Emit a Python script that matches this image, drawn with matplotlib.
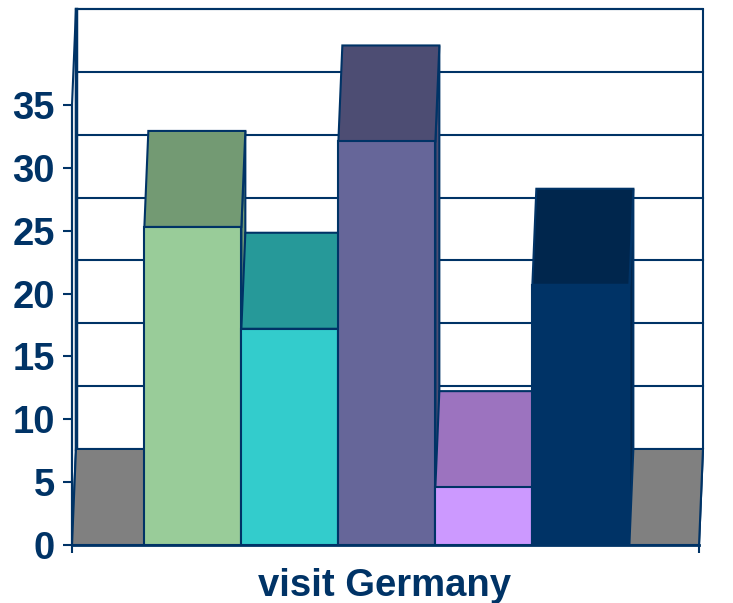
import matplotlib
matplotlib.use('Agg')
import matplotlib.pyplot as plt
from matplotlib.patches import Polygon

plt.rcParams['font.family'] = ['Liberation Sans', 'DejaVu Sans']

series_values = [25.3, 17.2, 32.1, 4.6, 20.7]
front_colors = ['#99CC99', '#33CCCC', '#666699', '#CC99FF', '#003366']
top_colors = ['#739A73', '#269999', '#4D4D73', '#9C73BF', '#00264D']
y_ticks = [0, 5, 10, 15, 20, 25, 30, 35]
xlabel = 'visit Germany'

navy = '#003366'
W, H = 733, 603
# fake 3d depth, in data units
dx = 0.041
dy = 7.64
left, right = -1.246, 5.259
y_top = 35 + dy

fig = plt.figure(figsize=(W / 100, H / 100), dpi=100)
ax = fig.add_axes([72 / W, (H - 545) / H, (703 - 72) / W, (545 - 9) / H])
ax.set_xlim(left, right)
ax.set_ylim(0, y_top)
for s in ax.spines.values():
    s.set_visible(False)

x_front_r = right - dx

# back wall gridlines
for v in y_ticks[1:]:
    ax.plot([left + dx, right], [v + dy, v + dy], color=navy, lw=1.5, zorder=1, clip_on=False)
ax.plot([left + dx, right, right, x_front_r], [y_top, y_top, dy, 0], color=navy, lw=1.5,
        zorder=1, clip_on=False)

# left wall
ax.add_patch(Polygon([(left, 0), (left, 35), (left + dx, y_top), (left + dx, dy)],
                     facecolor='white', edgecolor=navy, lw=1.5, clip_on=False, zorder=1))
ax.plot([left + dx, left + dx], [dy, y_top], color=navy, lw=2.5, zorder=2, clip_on=False)

# floor
ax.add_patch(Polygon([(left, 0), (left + dx, dy), (right, dy), (x_front_r, 0)],
                     facecolor='#808080', edgecolor=navy, lw=1.5, clip_on=False, zorder=2))

# bars
for i, v in enumerate(series_values):
    x0, x1 = i - 0.5, i + 0.5
    ax.add_patch(Polygon([(x1, 0), (x1 + dx, dy), (x1 + dx, v + dy), (x1, v)],
                         facecolor=top_colors[i], edgecolor=navy, lw=1.5, zorder=3 + i))
    ax.add_patch(Polygon([(x0, v), (x0 + dx, v + dy), (x1 + dx, v + dy), (x1, v)],
                         facecolor=top_colors[i], edgecolor=navy, lw=1.5, zorder=3 + i))
    ax.bar(i, v, width=1, color=front_colors[i], edgecolor=navy, lw=1.5, zorder=3 + i)

ax.set_yticks(y_ticks)
ax.set_yticklabels([str(v) for v in y_ticks], fontsize=27.5, fontweight='bold', color=navy)
ax.set_xticks([left, x_front_r])
ax.set_xticklabels(['', ''])
ax.tick_params(axis='y', length=6.5, width=1.5, color=navy, pad=6)
ax.tick_params(axis='x', length=6, width=1.5, color=navy)
ax.plot([left, x_front_r], [0, 0], color=navy, lw=2, zorder=20, clip_on=False)
ax.plot([left, left], [0, 35], color=navy, lw=1.5, zorder=20, clip_on=False)

fig.text(385 / W, (H - 586) / H, xlabel, fontsize=27.5, fontweight='bold', color=navy,
         ha='center', va='center')

fig.savefig('out.png', dpi=100)
